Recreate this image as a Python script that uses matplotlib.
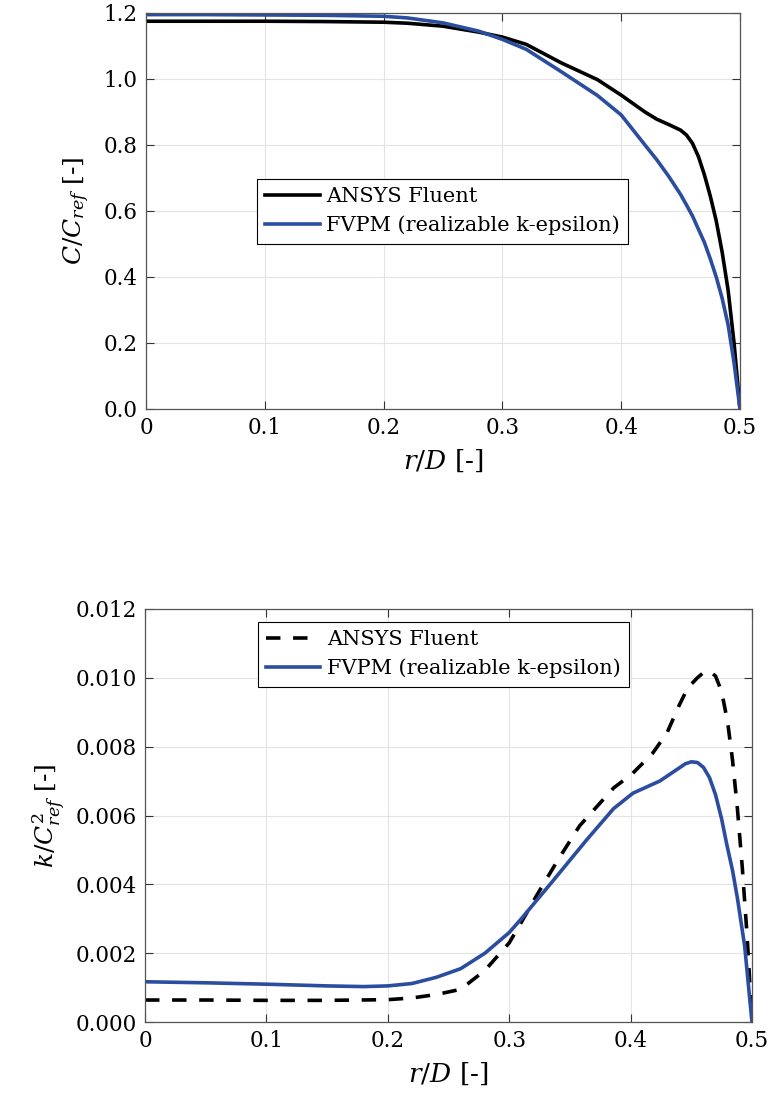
import numpy as np
import matplotlib.pyplot as plt

# 上段: C/C_ref
r_c = [0, 0.05, 0.1, 0.15, 0.2, 0.22, 0.25, 0.28, 0.3, 0.32, 0.35, 0.38, 0.4,
       0.42, 0.43, 0.44, 0.45, 0.455, 0.46, 0.465, 0.47, 0.475, 0.48, 0.485,
       0.49, 0.495, 0.5]
c_fluent = [1.175, 1.175, 1.175, 1.174, 1.172, 1.169, 1.16, 1.142, 1.127, 1.105,
            1.048, 0.998, 0.951, 0.90, 0.878, 0.862, 0.845, 0.83, 0.805, 0.765,
            0.71, 0.645, 0.57, 0.475, 0.36, 0.2, 0.0]
c_fvpm = [1.195, 1.195, 1.194, 1.193, 1.19, 1.185, 1.17, 1.145, 1.12, 1.09,
          1.021, 0.95, 0.891, 0.80, 0.755, 0.705, 0.65, 0.618, 0.585, 0.545,
          0.505, 0.455, 0.40, 0.335, 0.255, 0.14, 0.0]

# 下段: k/C_ref^2
r_k_fluent = [0, 0.05, 0.1, 0.15, 0.2, 0.22, 0.24, 0.26, 0.28, 0.3, 0.31, 0.323,
              0.34, 0.358, 0.386, 0.401, 0.418, 0.43, 0.44, 0.447, 0.455, 0.46,
              0.465, 0.47, 0.475, 0.48, 0.484, 0.488, 0.492, 0.496, 0.5]
k_fluent = [0.00064, 0.00064, 0.00063, 0.00063, 0.00065, 0.0007, 0.0008, 0.00095,
            0.0015, 0.0023, 0.0029, 0.0037, 0.0047, 0.0057, 0.0068, 0.0072,
            0.0078, 0.0084, 0.0092, 0.0097, 0.0100, 0.01015, 0.0102, 0.01005,
            0.0096, 0.0087, 0.0076, 0.0062, 0.0045, 0.0025, 0.0]
r_k_fvpm = [0, 0.05, 0.1, 0.15, 0.18, 0.2, 0.22, 0.24, 0.26, 0.28, 0.3, 0.31,
            0.336, 0.364, 0.386, 0.402, 0.424, 0.44, 0.445, 0.45, 0.455, 0.46,
            0.465, 0.47, 0.475, 0.479, 0.484, 0.488, 0.494, 0.5]
k_fvpm = [0.00117, 0.00114, 0.0011, 0.00105, 0.00103, 0.00105, 0.00112, 0.0013,
          0.00155, 0.002, 0.0026, 0.003, 0.0041, 0.0053, 0.0062, 0.00665, 0.007,
          0.00738, 0.0075, 0.00756, 0.00754, 0.0074, 0.0071, 0.0066, 0.0059,
          0.0052, 0.0044, 0.0036, 0.0022, 0.0]

x_ticks = [0, 0.1, 0.2, 0.3, 0.4, 0.5]
x_labels = ['0', '0.1', '0.2', '0.3', '0.4', '0.5']

plt.rcParams['font.family'] = 'DejaVu Serif'
plt.rcParams['mathtext.fontset'] = 'dejavuserif'

blue = '#2B4DA0'
lw = 2.6

fig = plt.figure(figsize=(7.73, 11.09), dpi=100)
ax1 = fig.add_axes([0.1889, 0.6312, 0.7684, 0.3571])
ax2 = fig.add_axes([0.1876, 0.0784, 0.7852, 0.3725])


def style_axes(ax):
    ax.set_xlim(0, 0.5)
    ax.set_xticks(x_ticks)
    ax.set_xticklabels(x_labels)
    ax.grid(True, color='#e3e3e3', linewidth=0.8)
    ax.set_axisbelow(True)
    ax.tick_params(direction='in', top=True, right=True, length=6,
                   width=0.8, labelsize=15.5, color='#333333', pad=6)
    for s in ax.spines.values():
        s.set_color('#555555')
        s.set_linewidth(0.9)


def add_legend(ax, anchor):
    leg = ax.legend(loc='upper left', bbox_to_anchor=anchor, fontsize=15,
                    fancybox=False, edgecolor='black', framealpha=1,
                    borderpad=0.4, handlelength=2.6, handletextpad=0.3,
                    labelspacing=0.45, borderaxespad=0)
    leg.get_frame().set_linewidth(0.8)


# 上段のプロット
ax1.plot(r_c, c_fluent, color='black', lw=lw, label='ANSYS Fluent')
ax1.plot(r_c, c_fvpm, color=blue, lw=lw, label='FVPM (realizable k-epsilon)')
style_axes(ax1)
ax1.set_ylim(0, 1.2)
ax1.set_yticks(np.arange(0, 1.21, 0.2))
ax1.set_yticklabels([f'{v:.1f}' for v in np.arange(0, 1.21, 0.2)])
ax1.set_xlabel(r'$r/D$ [-]', fontsize=19, labelpad=6)
ax1.set_ylabel(r'$C/C_{ref}$ [-]', fontsize=18, labelpad=8)
add_legend(ax1, (0.187, 0.581))

# 下段のプロット
ax2.plot(r_k_fluent, k_fluent, color='black', lw=lw, linestyle=(0, (4, 3.5)),
         label='ANSYS Fluent')
ax2.plot(r_k_fvpm, k_fvpm, color=blue, lw=lw, label='FVPM (realizable k-epsilon)')
style_axes(ax2)
ax2.set_ylim(0, 0.012)
ax2.set_yticks(np.arange(0, 0.0121, 0.002))
ax2.set_yticklabels([f'{v:.3f}' for v in np.arange(0, 0.0121, 0.002)])
ax2.set_xlabel(r'$r/D$ [-]', fontsize=19, labelpad=6)
ax2.set_ylabel(r'$k/C^2_{ref}$ [-]', fontsize=18, labelpad=6)
add_legend(ax2, (0.186, 0.9685))

fig.savefig('out.png', dpi=100)
